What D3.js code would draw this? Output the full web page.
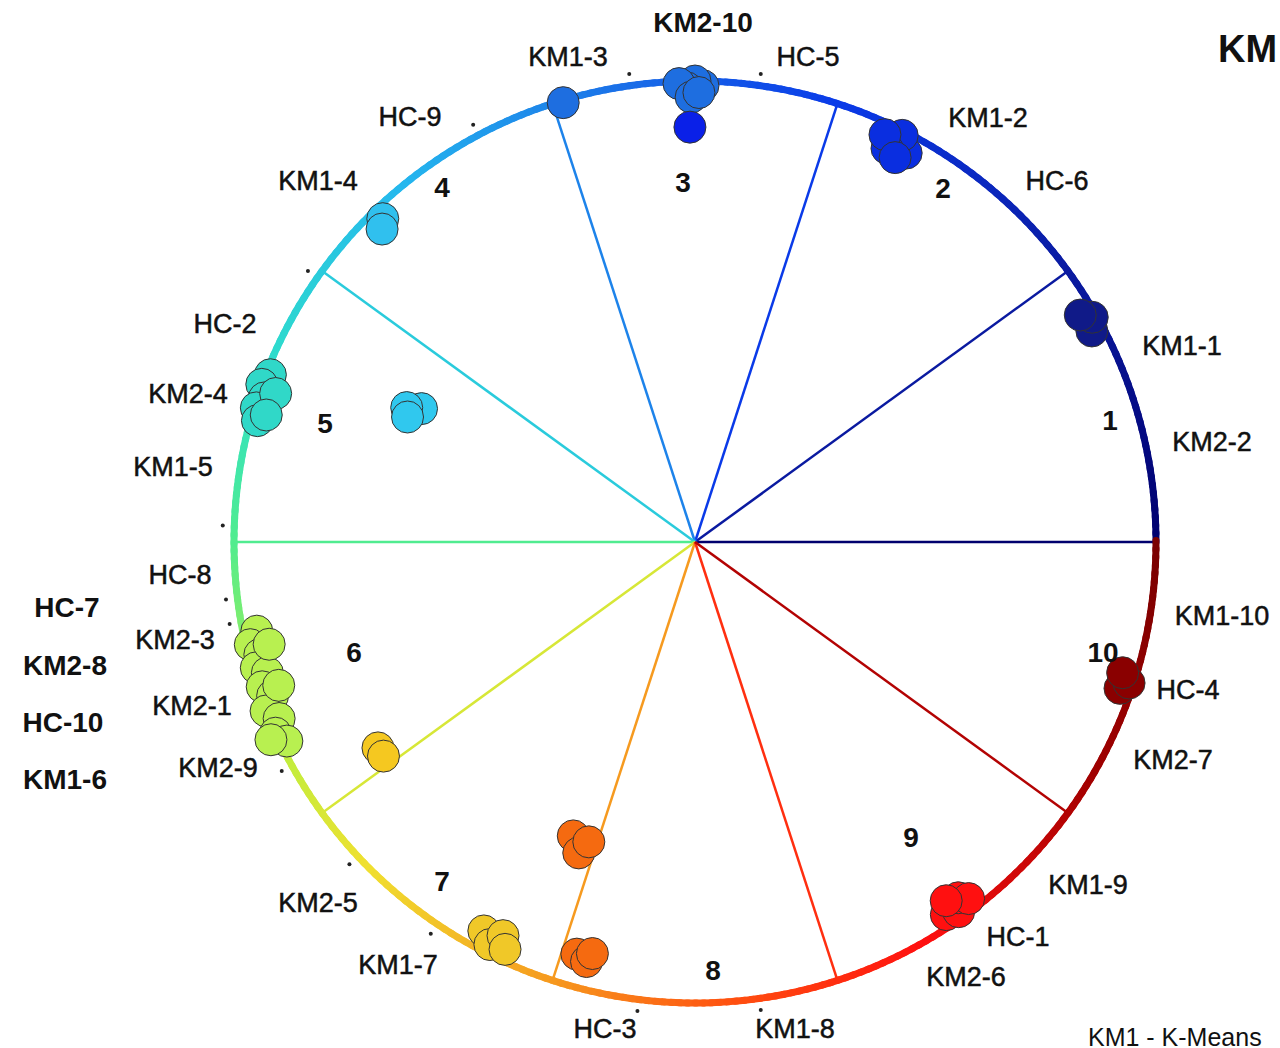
<!DOCTYPE html>
<html>
<head>
<meta charset="utf-8">
<script src="https://cdn.jsdelivr.net/npm/d3@7"></script>
<style>
  body { margin: 0; background: #fff; }
  text { font-family: "Liberation Sans", Arial, sans-serif; fill: #111; }
</style>
</head>
<body>
<svg id="chart" width="1280" height="1048"></svg>
<script>
// ring colour stops by angle (degrees, counter-clockwise from 3 o'clock)
const colorAngles = [0, 36, 72, 100, 130, 160, 180, 205, 225, 250, 275, 300, 330, 360]
const colorStops = ['#00006e', '#0a1aa0', '#0a3ae8', '#1a70e8', '#25b8ee', '#30e0c8', '#50ec90', '#b8f040', '#f0e030', '#f5a020', '#ff5010', '#ff1010', '#a00000', '#7a0000']

// cluster boundaries (degrees)
const boundaries = [0, 36, 72, 108, 144, 180, 216, 252, 288, 324]

// points: [angle, radius fraction]
const groups = [
    { color: '#101a88', pts: [[28, 0.975], [29.5, 0.99], [30.5, 0.97]] },
    { color: '#0a2ee0', pts: [[61.5, 0.96], [63, 0.99], [64, 0.95], [65, 0.975], [62.5, 0.94]] },
    { color: '#1e6ee0', pts: [[89, 0.99], [90, 1.0], [91, 0.985], [92, 0.995], [90.5, 0.965], [89.5, 0.975]] },
    { color: '#0a20e8', pts: [[90.7, 0.9]] },
    { color: '#1e6ee0', pts: [[106.7, 0.995]] },
    { color: '#30c0ee', pts: [[134, 0.975], [135, 0.96]] },
    { color: '#30d8c8', pts: [[158.5, 0.99], [160, 1.0], [161.5, 0.985], [163, 0.995], [164.5, 0.985], [160.5, 0.965], [163.5, 0.97]] },
    { color: '#30c8ee', pts: [[154, 0.66], [155, 0.69], [156.5, 0.68]] },
    { color: '#b8f050', pts: [[191.5, 0.97], [193, 0.99], [194.5, 0.975], [196, 0.99], [197, 0.97], [198.5, 0.99], [200, 0.975], [201.5, 1.0], [203, 0.98], [204.5, 1.0], [206, 0.985], [193.5, 0.95], [199, 0.955], [205, 1.015]] },
    { color: '#f5c820', pts: [[213, 0.82], [214.5, 0.82]] },
    { color: '#f56a10', pts: [[247.5, 0.69], [249.5, 0.72], [250.5, 0.69]] },
    { color: '#f56a10', pts: [[254, 0.93], [255.5, 0.94], [256, 0.92]] },
    { color: '#f0c828', pts: [[241.5, 0.96], [243, 0.98], [244, 0.95], [245, 0.975]] },
    { color: '#ff1010', pts: [[304, 0.975], [305.5, 0.985], [306.5, 0.96], [307.5, 0.975], [305, 0.95]] },
    { color: '#8a0000', pts: [[341, 0.975], [342, 0.99], [343, 0.97]] }
]

// labels: [text, dx, dy] offsets from centre in pixels, y up
const ringLabels = [
    ['KM1-3', -127, 485], ['HC-5', 113, 485], ['KM1-2', 293, 424], ['HC-6', 362, 361],
    ['KM1-1', 487, 196], ['KM2-2', 517, 100], ['KM1-10', 527, -74], ['HC-4', 493, -148],
    ['KM2-7', 478, -218], ['KM1-9', 393, -343], ['HC-1', 323, -395], ['KM2-6', 271, -435],
    ['KM1-8', 100, -487], ['HC-3', -90, -487], ['KM1-7', -297, -423], ['KM2-5', -377, -361],
    ['KM2-9', -477, -226], ['KM2-1', -503, -164], ['KM2-3', -520, -98], ['HC-8', -515, -33],
    ['KM1-5', -522, 75], ['KM2-4', -507, 148], ['HC-2', -470, 218], ['KM1-4', -377, 361],
    ['HC-9', -285, 425]
]
const boldLabels = [['KM2-10', 8, 520], ['HC-7', -628, -65], ['KM2-8', -630, -123], ['HC-10', -632, -180], ['KM1-6', -630, -237]]
const sectorLabels = [['1', 415, 122], ['2', 248, 354], ['3', -12, 360], ['4', -253, 355], ['5', -370, 119],
    ['6', -341, -110], ['7', -253, -339], ['8', 18, -428], ['9', 216, -295], ['10', 408, -110]]
// small tick dots just outside the ring (angles)
const tickAngles = [98, 82, 145, 118, 178, 187, 190, 209, 223, 236, 263, 278]

const R = 461
const svg = d3.select('#chart')
const x = d3.scaleLinear().domain([-R, R]).range([695 - R, 695 + R])
const y = d3.scaleLinear().domain([-R, R]).range([542 + R, 542 - R])
const color = d3.scaleLinear().domain(colorAngles).range(colorStops)
const rad = (a) => a * Math.PI / 180
const px = (a, r) => x(R * r * Math.cos(rad(a)))
const py = (a, r) => y(R * r * Math.sin(rad(a)))

// radial boundary lines
svg.selectAll('.spoke')
    .data(boundaries)
    .enter()
    .append('line')
    .attr('x1', x(0)).attr('y1', y(0))
    .attr('x2', (a) => px(a, 1)).attr('y2', (a) => py(a, 1))
    .attr('stroke', (a) => color(a))
    .attr('stroke-width', 2.5)

// ring drawn in 1-degree segments
const segs = d3.range(0, 360, 1)
svg.selectAll('.seg')
    .data(segs)
    .enter()
    .append('line')
    .attr('x1', (a) => px(a, 1)).attr('y1', (a) => py(a, 1))
    .attr('x2', (a) => px(a + 1.2, 1)).attr('y2', (a) => py(a + 1.2, 1))
    .attr('stroke', (a) => color(a + 0.5))
    .attr('stroke-width', 7)
    .attr('stroke-linecap', 'round')

svg.selectAll('.tick')
    .data(tickAngles)
    .enter()
    .append('circle')
    .attr('cx', (a) => px(a, 1.025)).attr('cy', (a) => py(a, 1.025))
    .attr('r', 2).attr('fill', '#222')

// points
groups.forEach((g) => {
    svg.append('g').selectAll('circle')
        .data(g.pts)
        .enter()
        .append('circle')
        .attr('cx', (p) => px(p[0], p[1]))
        .attr('cy', (p) => py(p[0], p[1]))
        .attr('r', 16)
        .attr('fill', g.color)
        .attr('stroke', '#333')
        .attr('stroke-width', 1)
})

svg.selectAll('.lab')
    .data(ringLabels)
    .enter()
    .append('text')
    .attr('x', (d) => x(d[1])).attr('y', (d) => y(d[2]))
    .attr('text-anchor', 'middle').attr('dominant-baseline', 'central')
    .attr('font-size', 27)
    .attr('stroke', '#111').attr('stroke-width', 0.5)
    .text((d) => d[0])

svg.selectAll('.blab')
    .data(boldLabels)
    .enter()
    .append('text')
    .attr('x', (d) => x(d[1])).attr('y', (d) => y(d[2]))
    .attr('text-anchor', 'middle').attr('dominant-baseline', 'central')
    .attr('font-size', 28).attr('font-weight', 'bold')
    .text((d) => d[0])

svg.selectAll('.slab')
    .data(sectorLabels)
    .enter()
    .append('text')
    .attr('x', (d) => x(d[1])).attr('y', (d) => y(d[2]))
    .attr('text-anchor', 'middle').attr('dominant-baseline', 'central')
    .attr('font-size', 28).attr('font-weight', 'bold')
    .text((d) => d[0])

svg.append('text')
    .attr('x', 1218).attr('y', 62)
    .attr('font-size', 38).attr('font-weight', 'bold')
    .text('KM')

svg.append('text')
    .attr('x', 1088).attr('y', 1046)
    .attr('font-size', 25)
    .text('KM1 - K-Means')
</script>
</body>
</html>
